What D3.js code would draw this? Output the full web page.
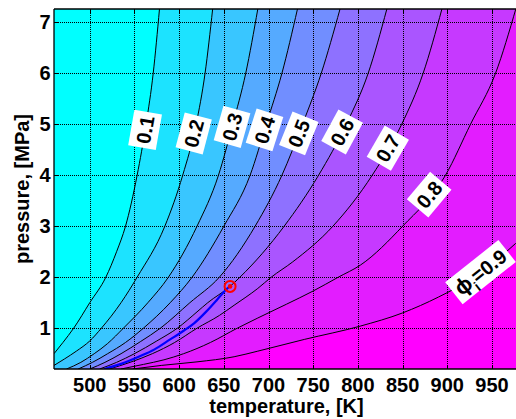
<!DOCTYPE html>
<html>
<head>
<meta charset="utf-8">
<script src="https://cdn.jsdelivr.net/npm/d3@7/dist/d3.min.js"></script>
<style>
  html, body { margin: 0; padding: 0; background: #fff; }
  svg { display: block; }
  text { font-family: "Liberation Sans", Arial, Helvetica, sans-serif; font-weight: bold; }
</style>
</head>
<body>
<svg id="chart" width="516" height="419"></svg>
<script>
// ---------------- data ----------------
const tempDomain = [460, 978];          // K
const pressDomain = [0.2, 7.26];        // MPa
const xTickValues = [500, 550, 600, 650, 700, 750, 800, 850, 900, 950];
const yTickValues = [1, 2, 3, 4, 5, 6, 7];
const levels = [0.1, 0.2, 0.3, 0.4, 0.5, 0.6, 0.7, 0.8, 0.9];

// contour lines, [temperature K, pressure MPa]
const contour01 = [[460,0.50],[470,0.72],[482,1.0],[500,1.5],[518,2.0],[530,2.5],[540,3.0],[553,4.0],[563,5.0],[571,6.0],[578,7.26]];
const contour02 = [[460,0.27],[472,0.40],[485,0.55],[500,0.75],[513,1.0],[535,1.5],[553,2.0],[584,3.0],[604,4.0],[619,5.0],[629,6.0],[637.5,7.26]];
const contour03 = [[474,0.2],[490,0.33],[505,0.5],[520,0.7],[537.6,1.0],[565,1.5],[588,2.0],[620,3.0],[644,4.0],[660,5.0],[674.5,6.0],[688,7.26]];
const contour04 = [[487,0.2],[503,0.33],[520,0.5],[540,0.72],[560,1.0],[590,1.5],[614.5,2.0],[650,3.0],[679.4,4.0],[697.5,5.0],[715,6.0],[732.4,7.26]];
const contour05 = [[500,0.2],[517,0.33],[535,0.5],[557,0.74],[579,1.0],[612,1.5],[645,2.0],[685,3.0],[715,4.0],[738,5.0],[759,6.0],[780,7.26]];
const contour06 = [[511,0.2],[530,0.33],[550,0.5],[575,0.75],[598,1.0],[620,1.32],[632,1.5],[657,1.82],[668,2.0],[717.5,3.0],[756,4.0],[787,5.0],[811.5,6.0],[832.4,7.26]];
const contour07 = [[522,0.2],[545,0.33],[570,0.5],[595,0.72],[620,1.0],[645,1.25],[661.5,1.45],[688,1.78],[703,2.0],[727,2.3],[772,3.0],[816,4.0],[849,5.0],[873,6.0],[894,7.26]];
const contour08 = [[535,0.2],[560,0.29],[583,0.38],[605,0.5],[635,0.72],[665,1.0],[688,1.2],[720,1.47],[750,1.73],[778,2.0],[803,2.24],[850,3.0],[898,4.0],[926,5.0],[954,6.0],[977,7.28]];
const contour09 = [[548,0.2],[580,0.27],[620,0.34],[661.5,0.44],[688,0.55],[740,0.78],[802.5,1.04],[850,1.3],[890,1.61],[930,2.0],[968,2.53],[985,2.8]];
const contours = [contour01, contour02, contour03, contour04, contour05, contour06, contour07, contour08, contour09];

// contour label positions (pressure along each line) and texts
const labelPressures = [4.89, 4.82, 4.95, 4.89, 4.82, 4.85, 4.53, 3.62, 2.1];
const labelTexts = ["0.1", "0.2", "0.3", "0.4", "0.5", "0.6", "0.7", "0.8", "=0.9"];

// blue trajectory and its end marker
const pathTemp  = [516, 535, 556, 572, 590, 605, 617, 630, 642, 650, 655];
const pathPress = [0.2, 0.3, 0.45, 0.58, 0.78, 0.95, 1.1, 1.32, 1.55, 1.71, 1.8];
const endPoint = [657, 1.82];

// ---------------- drawing ----------------
const W = 516, H = 419;
const plot = { left: 54, top: 9, right: 517, bottom: 369 };
const svg = d3.select("#chart");

const x = d3.scaleLinear().domain(tempDomain).range([plot.left, plot.right]);
const y = d3.scaleLinear().domain(pressDomain).range([plot.bottom, plot.top]);
const crisp = v => Math.round(v) + 0.5;

const bandColor = k => d3.interpolateRgb("rgb(0,255,255)", "rgb(255,0,255)")(k / levels.length);

svg.append("clipPath").attr("id", "clip")
  .append("rect").attr("x", plot.left).attr("y", plot.top)
  .attr("width", plot.right - plot.left).attr("height", plot.bottom - plot.top);

const area = svg.append("g").attr("clip-path", "url(#clip)");

area.append("rect").attr("x", plot.left).attr("y", plot.top)
  .attr("width", plot.right - plot.left).attr("height", plot.bottom - plot.top)
  .attr("fill", bandColor(0));

const line = d3.line().x(d => x(d[0])).y(d => y(d[1])).curve(d3.curveMonotoneX);

contours.forEach((pts, i) => {
  const first = pts[0], last = pts[pts.length - 1];
  const xr = plot.right + 30, yb = plot.bottom + 30;
  const d = line(pts) + `L${xr},${y(last[1])}L${xr},${yb}L${x(first[0])},${yb}Z`;
  area.append("path").attr("d", d).attr("fill", bandColor(i + 1)).attr("stroke", "none");
});

// grid (dotted, MATLAB style)
const grid = area.append("g").attr("stroke", "#000").attr("stroke-width", 1)
  .attr("stroke-dasharray", "1,1").attr("shape-rendering", "crispEdges");
xTickValues.forEach(v => grid.append("line").attr("x1", crisp(x(v))).attr("x2", crisp(x(v))).attr("y1", plot.top).attr("y2", plot.bottom));
yTickValues.forEach(v => grid.append("line").attr("y1", crisp(y(v))).attr("y2", crisp(y(v))).attr("x1", plot.left).attr("x2", plot.right));

// contour lines
contours.forEach(pts => {
  area.append("path").attr("d", line(pts)).attr("fill", "none")
    .attr("stroke", "#000").attr("stroke-width", 1);
});

// blue trajectory
const traj = pathTemp.map((t, i) => [t, pathPress[i]]);
area.append("path").attr("d", d3.line().x(d => x(d[0])).y(d => y(d[1])).curve(d3.curveMonotoneX)(traj))
  .attr("fill", "none").attr("stroke", "rgb(0,0,255)").attr("stroke-width", 2.2);
area.append("circle").attr("cx", x(endPoint[0])).attr("cy", y(endPoint[1])).attr("r", 5.5)
  .attr("fill", "none").attr("stroke", "rgb(255,0,0)").attr("stroke-width", 2);
area.append("circle").attr("cx", x(endPoint[0])).attr("cy", y(endPoint[1])).attr("r", 2.3)
  .attr("fill", "rgb(255,0,0)");

// contour labels
function locate(pts, p) {
  for (let i = 0; i < pts.length - 1; i++) {
    const a = pts[i], b = pts[i + 1];
    if ((p >= a[1] && p <= b[1])) {
      const f = (p - a[1]) / (b[1] - a[1]);
      const t = a[0] + f * (b[0] - a[0]);
      const ang = Math.atan2(y(b[1]) - y(a[1]), x(b[0]) - x(a[0])) * 180 / Math.PI;
      return { t, ang };
    }
  }
  return { t: pts[pts.length - 1][0], ang: -45 };
}
const labels = svg.append("g");
contours.forEach((pts, i) => {
  const { t, ang } = locate(pts, labelPressures[i]);
  const g = labels.append("g").attr("transform", `translate(${x(t)},${y(labelPressures[i])}) rotate(${ang})`);
  const isLast = i === contours.length - 1;
  const bw = isLast ? 68 : 36, bh = 28;
  g.append("rect").attr("x", -bw / 2).attr("y", -bh / 2).attr("width", bw).attr("height", bh).attr("fill", "#fff");
  const txt = g.append("text").attr("text-anchor", "middle").attr("dy", "0.36em")
    .attr("font-size", 20).attr("fill", "#000");
  if (isLast) {
    txt.append("tspan").attr("font-size", 22).text("\u03D5");
    txt.append("tspan").attr("font-size", 14).attr("dy", "0.5em").text("i");
    txt.append("tspan").attr("dy", "-0.35em").text(labelTexts[i]);
  } else {
    txt.text(labelTexts[i]);
  }
});

// axes frame
const frame = svg.append("g").attr("stroke", "#000").attr("stroke-width", 1.3);
frame.append("line").attr("x1", plot.left).attr("x2", W).attr("y1", plot.top).attr("y2", plot.top);
frame.append("line").attr("x1", plot.left).attr("x2", W).attr("y1", plot.bottom).attr("y2", plot.bottom);
frame.append("line").attr("x1", plot.left).attr("x2", plot.left).attr("y1", plot.top).attr("y2", plot.bottom);

// inward ticks
const ticks = svg.append("g").attr("stroke", "#000").attr("stroke-width", 1).attr("shape-rendering", "crispEdges");
xTickValues.forEach(v => {
  ticks.append("line").attr("x1", crisp(x(v))).attr("x2", crisp(x(v))).attr("y1", plot.bottom).attr("y2", plot.bottom - 4);
  ticks.append("line").attr("x1", crisp(x(v))).attr("x2", crisp(x(v))).attr("y1", plot.top).attr("y2", plot.top + 4);
});
yTickValues.forEach(v => {
  ticks.append("line").attr("x1", plot.left).attr("x2", plot.left + 4).attr("y1", crisp(y(v))).attr("y2", crisp(y(v)));
});

// tick labels
xTickValues.forEach(v => svg.append("text").attr("x", x(v)).attr("y", 391.5)
  .attr("text-anchor", "middle").attr("font-size", 20).text(v));
yTickValues.forEach(v => svg.append("text").attr("x", 50.5).attr("y", y(v)).attr("dy", "0.36em")
  .attr("text-anchor", "end").attr("font-size", 20).text(v));

// axis titles
svg.append("text").attr("x", 286.5).attr("y", 412.5).attr("text-anchor", "middle")
  .attr("font-size", 20).text("temperature, [K]");
svg.append("text").attr("transform", "translate(29,189) rotate(-90)").attr("text-anchor", "middle")
  .attr("font-size", 20).text("pressure, [MPa]");
</script>
</body>
</html>
